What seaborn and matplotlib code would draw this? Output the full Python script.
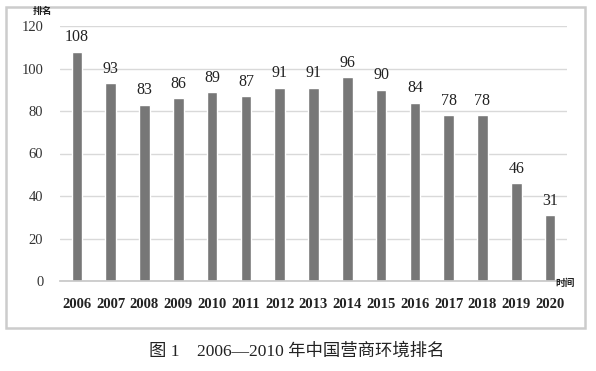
import matplotlib
matplotlib.use("Agg")
import matplotlib.pyplot as plt
import seaborn as sns
import pandas as pd
from matplotlib.patches import Rectangle

years = ["2006", "2007", "2008", "2009", "2010", "2011", "2012", "2013",
         "2014", "2015", "2016", "2017", "2018", "2019", "2020"]
ranks = [108, 93, 83, 86, 89, 87, 91, 91, 96, 90, 84, 78, 78, 46, 31]
yticks = [0, 20, 40, 60, 80, 100, 120]

sns.set_theme(style="white")
plt.rcParams['font.family'] = ['Liberation Serif', 'Noto Sans CJK SC', 'DejaVu Sans']

df = pd.DataFrame({"year": years, "rank": ranks})

W, H = 596, 371
fig = plt.figure(figsize=(W / 100, H / 100), dpi=100)
fig.patch.set_facecolor("white")

# outer frame
fig.patches.append(Rectangle((6 / W, 1 - 328 / H), (585 - 6) / W, (328 - 7) / H,
                             transform=fig.transFigure, fill=False,
                             edgecolor="#cccccc", linewidth=1.8))

ax = fig.add_axes([60 / W, 1 - 281 / H, 507 / W, (281 - 26) / H])
sns.barplot(data=df, x="year", y="rank", color="#777777", width=0.31,
            saturation=1, ax=ax)
ax.set_ylim(0, 120)
ax.set_yticks(yticks)
ax.set_yticklabels([str(t) for t in yticks], fontsize=10.5, color="#333333")
ax.set_xticks(range(len(years)))
ax.set_xticklabels(years, fontsize=10.5, fontweight="bold", color="#222222")
ax.tick_params(axis="both", length=0)
ax.tick_params(axis="x", pad=12)
ax.tick_params(axis="y", pad=12)
ax.grid(axis="y", color="#d9d9d9", linewidth=1)
ax.set_axisbelow(True)
for s in ["top", "right", "left"]:
    ax.spines[s].set_visible(False)
ax.spines["bottom"].set_color("#c8c8c8")
ax.set_xlabel("")
ax.set_ylabel("")
ax.set_xlim(-0.5, len(years) - 0.5)

for i, v in enumerate(ranks):
    ax.text(i, v + 3, str(v), ha="center", va="bottom", fontsize=11.5,
            color="#222222")

fig.text(42 / W, 1 - 11 / H, "排名", ha="center", va="center", fontsize=7,
         fontweight="bold", family=['Noto Sans CJK SC', 'DejaVu Sans'], color="#222222")
fig.text(565 / W, 1 - 283 / H, "时间", ha="center", va="center", fontsize=7,
         fontweight="bold", family=['Noto Sans CJK SC', 'DejaVu Sans'], color="#222222")
fig.text(297 / W, 1 - 351 / H, "图 1    2006—2010 年中国营商环境排名", ha="center",
         va="center", fontsize=12.5, color="#222222",
         family=['Liberation Serif', 'Noto Sans CJK SC', 'DejaVu Sans'])

fig.savefig("out.png", dpi=100, facecolor="white")
